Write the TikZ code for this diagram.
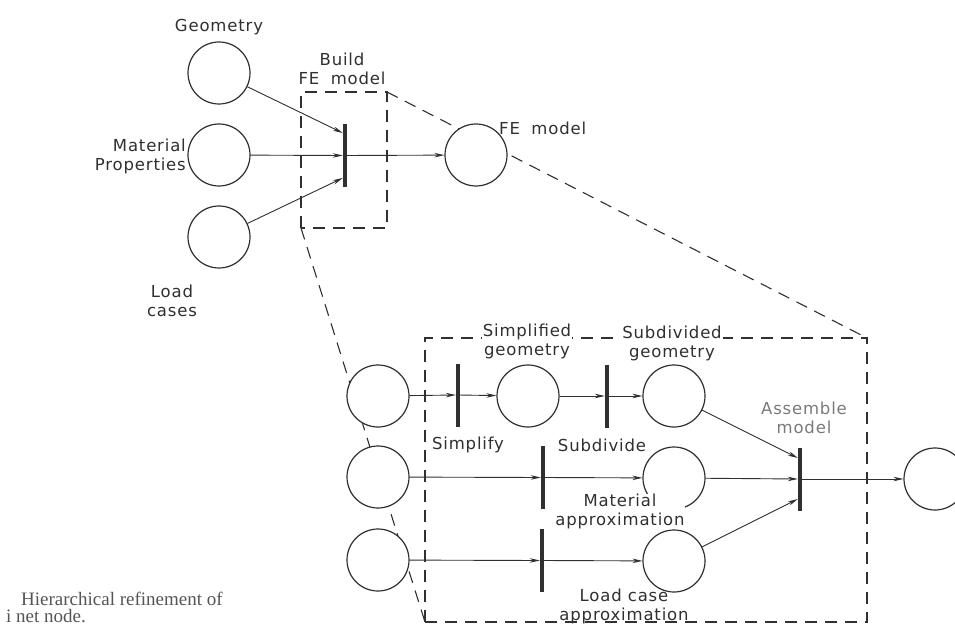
\documentclass[tikz,border=0pt]{standalone}
\usepackage{fontspec}
\usetikzlibrary{arrows.meta,calc}
\newfontfamily\lbfont[LetterSpace=5]{DejaVu Sans}
\newfontfamily\capfont{Liberation Serif}
\definecolor{ink}{HTML}{303030}
\definecolor{soft}{HTML}{7A7A7A}
\definecolor{captxt}{HTML}{555555}
\begin{document}
\begin{tikzpicture}[x=1pt,y=-1pt,
  pl/.style={circle, draw=ink, line width=1.2pt, fill=white, minimum size=62pt, inner sep=0pt},
  bar/.style={rectangle, draw=none, fill=ink, minimum width=4pt, minimum height=63pt, inner sep=0pt},
  arr/.style={draw=ink, line width=0.9pt, -{Stealth[length=10pt,width=4.5pt]}},
  dsh/.style={draw=ink, line width=1.1pt, dash pattern=on 12pt off 8pt},
  lbl/.style={text=ink, font=\lbfont\fontsize{16.5}{19}\selectfont, inner sep=1pt, align=center},
  wl/.style={lbl, fill=white},
  captionstyle/.style={text=captxt, font=\capfont\fontsize{19}{17}\selectfont, inner sep=0pt, align=left, anchor=south west}
]
\useasboundingbox (0,0) rectangle (955,628);
\clip (0,0) rectangle (955,628);
\fill[white] (0,0) rectangle (955,628);

% boxes and refinement lines
\coordinate (sbTR) at (387,92);
\coordinate (sbBL) at (301,228);
\coordinate (bbTR) at (867,338);
\coordinate (bbBL) at (425,622);
\draw[dsh] (sbBL) rectangle (sbTR);
\draw[dsh] (bbBL) rectangle (bbTR);
\draw[dsh] (sbTR) -- (bbTR);
\draw[dsh] (sbBL) -- (bbBL);

% top net
\node[pl] (geo) at (219,73) {};
\node[pl] (mat) at (219,155) {};
\node[pl] (load) at (219,237) {};
\node[bar] (t0) at (345,155.5) {};
\node[pl] (fe) at (476,155) {};

\draw[arr] (geo) -- (t0.west |- 0,133);
\draw[arr] (mat) -- (t0.west);
\draw[arr] (load) -- (t0.west |- 0,178);
\draw[arr] (t0) -- (fe);

% refined net
\node[pl] (a1) at (378,396) {};
\node[pl] (a2) at (378,477) {};
\node[pl] (a3) at (378,560) {};
\node[bar] (s1) at (458,395) {};
\node[pl] (sg) at (528,396) {};
\node[bar] (s2) at (607,396) {};
\node[pl] (dg) at (674,396) {};
\node[bar] (mb) at (543,477.5) {};
\node[pl] (mc) at (674,478) {};
\node[bar] (lb) at (542,560.5) {};
\node[pl] (lc) at (674,561) {};
\node[bar] (as) at (800,479) {};
\node[pl] (out) at (935,479) {};

\draw[arr] (a1) -- (s1.west);
\draw[arr] (s1) -- (sg);
\draw[arr] (sg) -- (s2.west);
\draw[arr] (s2) -- (dg);
\draw[arr] (a2) -- (mb.west);
\draw[arr] (mb) -- (mc);
\draw[arr] (a3) -- (lb.west);
\draw[arr] (lb) -- (lc);
\draw[arr] (dg) -- (as.west |- 0,458);
\draw[arr] (mc) -- (as.west);
\draw[arr] (lc) -- (as.west |- 0,499);
\draw[arr] (as) -- (out);

% labels
\node[lbl] (lgeo) at (219,27) {Geometry};
\node[lbl, anchor=east, align=right] (lmat) at (187,156) {Material\\Properties};
\node[lbl] (lload) at (172,301) {Load\\cases};
\node[lbl] (lbuild) at (342,68.5) {Build\\FE\hspace{0.7em}model};
\node[lbl, anchor=west] (lfe) at (498,128) {FE\hspace{0.7em}model};
\node[wl] (lsg) at (527,341) {Simplified\\geometry};
\node[wl] (ldg) at (672,343) {Subdivided\\geometry};
\node[lbl] (lsimp) at (468,445) {Simplify};
\node[lbl] (lsub) at (602,445) {Subdivide};
\node[lbl, text=soft] (las) at (804,418) {Assemble\\model};
\node[wl, inner sep=0pt] (lmc) at (620,511) {Material\\approximation};
\node[lbl, inner sep=0pt] (llc) at (624,606) {Load case\\approximation};

% caption
\node[captionstyle] (caption) at (6,623) {\hspace*{15pt}Hierarchical refinement of\\i net node.};
\end{tikzpicture}
\end{document}
